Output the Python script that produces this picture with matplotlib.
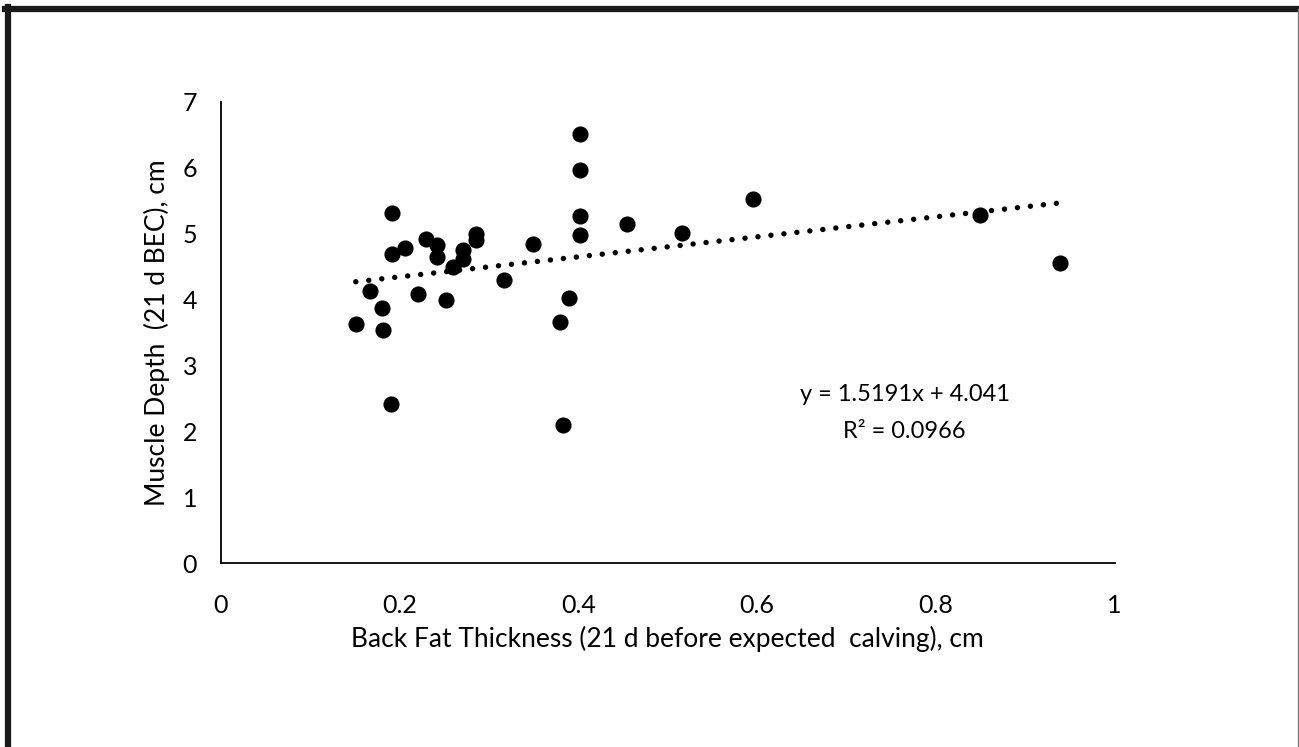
import matplotlib.pyplot as plt
import numpy as np
from matplotlib.lines import Line2D

# back fat thickness (cm) and muscle depth (cm)
back_fat = [0.151, 0.167, 0.180, 0.182, 0.190, 0.192, 0.192, 0.206, 0.221, 0.230,
            0.242, 0.242, 0.252, 0.260, 0.271, 0.271, 0.286, 0.286, 0.317, 0.349,
            0.380, 0.383, 0.390, 0.402, 0.402, 0.402, 0.402, 0.455, 0.516, 0.596,
            0.849, 0.939]
muscle = [3.63, 4.13, 3.87, 3.54, 2.42, 5.31, 4.69, 4.78, 4.09, 4.92,
          4.83, 4.65, 3.99, 4.49, 4.76, 4.61, 5.00, 4.90, 4.29, 4.85,
          3.66, 2.09, 4.03, 6.52, 5.96, 5.27, 4.98, 5.14, 5.01, 5.53,
          5.28, 4.55]
slope = 1.5191
intercept = 4.041
r2 = 0.0966

font = 'Lato'
plt.rcParams['font.family'] = [font, 'DejaVu Sans']

fig = plt.figure(figsize=(12.99, 7.47), dpi=100)
fig.set_facecolor('white')
ax = fig.add_axes([0.170, 0.2463, 0.688, 0.6172])

ax.scatter(back_fat, muscle, s=135, color='black', zorder=3, linewidths=0)

xs = np.array([min(back_fat), max(back_fat)])
ax.plot(xs, slope * xs + intercept, color='black', lw=3.9,
        linestyle=(0, (0.01, 2.4)), dash_capstyle='round', zorder=2)

ax.text(0.765, 2.28, f'y = {slope}x + {intercept}\nR² = {r2}', ha='center', va='center',
        multialignment='center', fontsize=17, linespacing=1.95)

ax.set_xlim(0, 1)
ax.set_ylim(0, 7)
ax.set_xticks([0, 0.2, 0.4, 0.6, 0.8, 1])
ax.set_xticklabels(['0', '0.2', '0.4', '0.6', '0.8', '1'])
ax.set_yticks(range(0, 8))
ax.tick_params(length=0, labelsize=18)
ax.tick_params(axis='x', pad=22)
ax.tick_params(axis='y', pad=17)
for s in ['top', 'right']:
    ax.spines[s].set_visible(False)
for s in ['left', 'bottom']:
    ax.spines[s].set_linewidth(1.3)
    ax.spines[s].set_color('black')

ax.set_xlabel('Back Fat Thickness (21 d before expected  calving), cm', fontsize=19, labelpad=7)
ax.set_ylabel('Muscle Depth  (21 d BEC), cm', fontsize=19, labelpad=9)

# outer frame
fig.add_artist(Line2D([5 / 1299, 1], [1 - 9 / 747, 1 - 9 / 747], color='#1a1a1a', lw=4.5,
                      transform=fig.transFigure))
fig.add_artist(Line2D([8 / 1299, 8 / 1299], [0, 1 - 7 / 747], color='#1a1a1a', lw=4.5,
                      transform=fig.transFigure))
fig.add_artist(Line2D([1298 / 1299, 1298 / 1299], [0, 1 - 9 / 747], color='#777777', lw=1,
                      transform=fig.transFigure))

fig.savefig('out.png', dpi=100)
